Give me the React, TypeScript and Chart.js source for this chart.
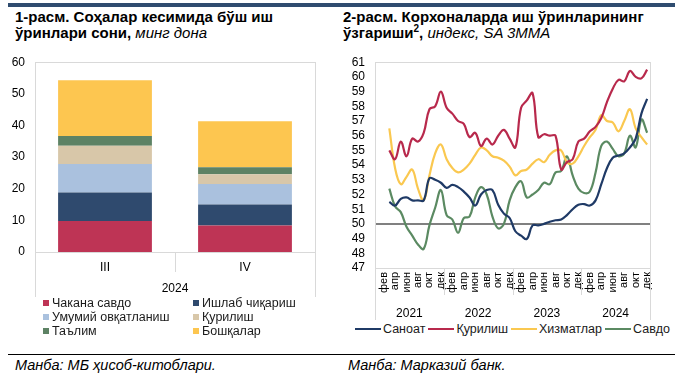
import React, { useEffect, useRef } from "react";
import { Chart, registerables } from "chart.js";

Chart.register(...registerables);
Chart.defaults.font.family = "'Liberation Sans', Arial, sans-serif";
Chart.defaults.color = "#000";

// ---------- Chart 1 data ----------
const barCategories = ["III", "IV"];
const barYearLabel = "2024";
const retail = [9.8, 8.4]; // Чакана савдо
const manufacturing = [9.0, 6.6]; // Ишлаб чиқариш
const catering = [9.0, 6.5]; // Умумий овқатланиш
const constructionJobs = [5.8, 3.1]; // Қурилиш
const education = [3.1, 2.2]; // Таълим
const otherJobs = [17.6, 14.5]; // Бошқалар

// ---------- Chart 2 data ----------
const years = ["2021", "2022", "2023", "2024"];
const months = ["янв", "фев", "мар", "апр", "май", "июн", "июл", "авг", "сен", "окт", "ноя", "дек"];
const monthLabels = years.flatMap(() => months);

const industry = [null, null, 51.5, 51.25, 51.7, 51.8, 51.6, 51.6, 51.6, 53.1, 53.0, 52.8, 52.45, 52.65, 52.5, 52.2, 51.8, 51.25, 52.0, 52.3, 52.3, 51.3, 50.7, 50.4, 49.5, 49.2, 48.97, 49.9, 49.9, 50.0, 50.15, 50.25, 50.3, 50.6, 51.0, 51.3, 51.35, 51.25, 51.6, 52.7, 53.8, 54.5, 54.65, 54.8, 55.2, 55.8, 57.5, 58.5];
const construction = [null, null, 55.0, 54.4, 55.6, 54.6, 55.8, 55.6, 56.2, 57.8, 58.0, 59.0, 57.9, 57.5, 57.0, 56.8, 55.9, 56.2, 55.3, 55.8, 55.4, 56.0, 56.4, 55.8, 55.2, 57.9, 58.4, 58.9, 55.9, 56.1, 56.0, 56.0, 53.7, 54.2, 54.4, 55.6, 55.8, 56.3, 56.6, 57.2, 58.3, 59.2, 59.8, 59.7, 60.4, 60.0, 59.9, 60.5];
const services = [null, null, 56.5, 53.8, 52.7, 53.2, 53.7, 52.4, 51.6, 53.3, 54.8, 55.4, 54.4, 53.8, 53.5, 53.7, 54.1, 54.7, 55.2, 55.0, 54.6, 54.5, 54.3, 53.9, 53.3, 53.6, 53.7, 54.1, 54.4, 54.2, 54.7, 55.0, 55.0, 54.2, 54.1, 54.6, 55.3, 55.9, 56.4, 57.4, 57.0, 56.9, 56.3, 57.0, 57.8, 56.5, 55.9, 55.4];
const trade = [null, null, 52.4, 51.2, 50.8, 49.8, 49.2, 48.6, 48.3, 49.9, 51.1, 52.3, 50.6, 50.3, 49.4, 50.4, 50.5, 51.8, 52.5, 52.0, 50.5, 49.7, 50.0, 51.6, 52.5, 52.9, 51.8, 52.0, 52.3, 52.8, 52.7, 53.5, 53.6, 54.6, 53.3, 52.4, 52.1, 52.2, 53.5, 55.3, 55.6, 55.1, 54.6, 54.8, 56.0, 55.2, 57.1, 56.2];

const barSeries = [
  { name: "Чакана савдо", data: retail, color: "#BE3455" },
  { name: "Ишлаб чиқариш", data: manufacturing, color: "#2F4A6E" },
  { name: "Умумий овқатланиш", data: catering, color: "#AAC1DE" },
  { name: "Қурилиш", data: constructionJobs, color: "#D8C7A9" },
  { name: "Таълим", data: education, color: "#5D8264" },
  { name: "Бошқалар", data: otherJobs, color: "#FDC650" },
];

const lineSeries = [
  { name: "Саноат", data: industry, color: "#1F3A66" },
  { name: "Қурилиш", data: construction, color: "#B8294C" },
  { name: "Хизматлар", data: services, color: "#FAC850" },
  { name: "Савдо", data: trade, color: "#5B8A62" },
];

const FONT = "'Liberation Sans', Arial, sans-serif";
const BOX = "#D9D9D9";

const px = (v: number) => Math.round(v) + 0.5;

const barDecor = {
  id: "barDecor",
  beforeDatasetsDraw(chart: any) {
    const { ctx, chartArea } = chart;
    const { left, right, top, bottom } = chartArea;
    ctx.save();
    ctx.strokeStyle = BOX;
    ctx.lineWidth = 1;
    ctx.strokeRect(px(left), px(top), Math.round(right - left), Math.round(bottom - top));
    const mid = (left + right) / 2;
    ctx.beginPath();
    ctx.moveTo(px(left), px(bottom));
    ctx.lineTo(px(left), bottom + 45);
    ctx.moveTo(px(right), px(bottom));
    ctx.lineTo(px(right), bottom + 45);
    ctx.moveTo(px(mid), px(bottom));
    ctx.lineTo(px(mid), bottom + 20);
    ctx.stroke();
    ctx.restore();
  },
};

const lineDecor = {
  id: "lineDecor",
  beforeDatasetsDraw(chart: any) {
    const { ctx, chartArea } = chart;
    const { left, right, top, bottom } = chartArea;
    ctx.save();
    ctx.strokeStyle = BOX;
    ctx.lineWidth = 1;
    ctx.strokeRect(px(left), px(top), Math.round(right - left), Math.round(bottom - top));
    ctx.beginPath();
    const n = years.length;
    for (let k = 0; k <= n; k++) {
      const x = px(left + ((right - left) * k) / n);
      ctx.moveTo(x, px(bottom));
      ctx.lineTo(x, bottom + (k === 0 || k === n ? 52 : 27));
    }
    ctx.stroke();
    ctx.restore();
  },
};

export default function App() {
  const barRef = useRef<HTMLCanvasElement>(null);
  const lineRef = useRef<HTMLCanvasElement>(null);

  useEffect(() => {
    const barChart = new Chart(barRef.current as HTMLCanvasElement, {
      type: "bar",
      data: {
        labels: barCategories,
        datasets: barSeries.map((s) => ({
          label: s.name,
          data: s.data,
          backgroundColor: s.color,
          borderWidth: 0,
          categoryPercentage: 1,
          barPercentage: 0.67,
        })),
      },
      options: {
        responsive: false,
        animation: false,
        devicePixelRatio: 1,
        layout: { padding: { left: 0, right: 25, top: 8, bottom: 0 } },
        plugins: { legend: { display: false }, tooltip: { enabled: false } },
        scales: {
          x: {
            stacked: true,
            grid: { display: false, drawTicks: false },
            border: { display: false },
            ticks: { font: { size: 12, family: FONT }, color: "#000", padding: 8 },
            title: {
              display: true,
              text: barYearLabel,
              font: { size: 12, family: FONT },
              color: "#000",
              padding: { top: 0, bottom: 4 },
            },
            afterFit: (scale: any) => {
              scale.height = 48;
            },
          },
          y: {
            stacked: true,
            min: 0,
            max: 60,
            ticks: { stepSize: 10, font: { size: 12, family: FONT }, color: "#000", padding: 10 },
            grid: { display: false, drawTicks: false },
            border: { display: false },
            afterFit: (scale: any) => {
              scale.width = 35;
            },
          },
        },
      },
      plugins: [barDecor],
    });

    const lineChart = new Chart(lineRef.current as HTMLCanvasElement, {
      type: "line",
      data: {
        labels: monthLabels,
        datasets: lineSeries.map((s) => ({
          label: s.name,
          data: s.data,
          borderColor: s.color,
          backgroundColor: s.color,
          borderWidth: 2.2,
          pointRadius: 0,
          tension: 0.4,
          fill: false,
        })),
      },
      options: {
        responsive: false,
        animation: false,
        devicePixelRatio: 1,
        layout: { padding: { left: 0, right: 30, top: 8, bottom: 0 } },
        plugins: { legend: { display: false }, tooltip: { enabled: false } },
        scales: {
          x: {
            type: "category",
            position: "bottom",
            weight: 0,
            offset: true,
            grid: { display: false, drawTicks: false },
            border: { display: false },
            ticks: {
              autoSkip: false,
              minRotation: 90,
              maxRotation: 90,
              padding: 4,
              font: { size: 11, family: FONT },
              color: "#000",
              callback: (_v: any, i: number) => (i % 2 === 1 ? monthLabels[i] : ""),
            },
            afterFit: (scale: any) => {
              scale.height = 30;
            },
          },
          x2: {
            type: "category",
            position: "bottom",
            weight: 1,
            labels: years,
            offset: true,
            grid: { display: false, drawTicks: false },
            border: { display: false },
            ticks: { font: { size: 12, family: FONT }, color: "#000", padding: 8, autoSkip: false, maxRotation: 0 },
            afterFit: (scale: any) => {
              scale.height = 22;
            },
          },
          y: {
            min: 47,
            max: 61,
            ticks: { stepSize: 1, autoSkip: false, font: { size: 12, family: FONT }, color: "#000", padding: 10 },
            grid: {
              drawTicks: false,
              color: (c: any) => (c.tick && c.tick.value === 50 ? "#808080" : "rgba(0,0,0,0)"),
              lineWidth: (c: any) => (c.tick && c.tick.value === 50 ? 2 : 1),
            },
            border: { display: false },
            afterFit: (scale: any) => {
              scale.width = 35;
            },
          },
        },
      },
      plugins: [lineDecor],
    });

    return () => {
      barChart.destroy();
      lineChart.destroy();
    };
  }, []);

  const titleStyle: React.CSSProperties = {
    position: "absolute",
    top: 9,
    fontFamily: FONT,
    fontSize: 15,
    fontWeight: "bold",
    lineHeight: "16px",
    color: "#000",
    whiteSpace: "nowrap",
  };
  const legendText: React.CSSProperties = {
    fontFamily: FONT,
    fontSize: 12.5,
    color: "#1a1a1a",
    whiteSpace: "nowrap",
  };
  const footerStyle: React.CSSProperties = {
    position: "absolute",
    top: 357,
    fontFamily: FONT,
    fontSize: 14.5,
    lineHeight: "17px",
    fontStyle: "italic",
    color: "#000",
    whiteSpace: "nowrap",
  };

  const legendPos = [
    { x: 43, y: 303 },
    { x: 193, y: 303 },
    { x: 43, y: 317 },
    { x: 193, y: 317 },
    { x: 43, y: 331 },
    { x: 193, y: 331 },
  ];

  return (
    <div style={{ position: "absolute", left: 0, top: 0, width: 680, height: 377, background: "#fff", overflow: "hidden" }}>
      <div style={{ position: "absolute", left: 8, top: 3, width: 667, height: 4, background: "#2F4C6F" }} />
      <div style={{ ...titleStyle, left: 15 }}>
        1-расм. Соҳалар кесимида бўш иш
        <br />
        ўринлари сони, <span style={{ fontStyle: "italic", fontWeight: "normal" }}>минг дона</span>
      </div>
      <div style={{ ...titleStyle, left: 343 }}>
        2-расм. Корхоналарда иш ўринларининг
        <br />
        ўзгариши<sup style={{ fontSize: 10, lineHeight: 0 }}>2</sup>,{" "}
        <span style={{ fontStyle: "italic", fontWeight: "normal" }}>индекс, SA 3MMA</span>
      </div>

      <canvas ref={barRef} width={340} height={255} style={{ position: "absolute", left: 0, top: 45, width: 340, height: 255 }} />
      <canvas ref={lineRef} width={340} height={275} style={{ position: "absolute", left: 340, top: 45, width: 340, height: 275 }} />

      {barSeries.map((s, i) => (
        <div
          key={s.name}
          style={{ position: "absolute", left: legendPos[i].x, top: legendPos[i].y - 7, height: 14, display: "flex", alignItems: "center" }}
        >
          <span style={{ display: "inline-block", width: 6, height: 6, background: s.color, marginRight: 3 }} />
          <span style={legendText}>{s.name}</span>
        </div>
      ))}

      <div style={{ position: "absolute", left: 355, top: 322, height: 14, display: "flex", alignItems: "center" }}>
        {lineSeries.map((s) => (
          <div key={s.name} style={{ display: "flex", alignItems: "center", marginRight: 3 }}>
            <span style={{ display: "inline-block", width: 26, height: 2, background: s.color, marginRight: 2 }} />
            <span style={legendText}>{s.name}</span>
          </div>
        ))}
      </div>

      <div style={{ position: "absolute", left: 8, top: 354, width: 667, height: 1, background: "#000" }} />
      <div style={{ ...footerStyle, left: 15 }}>Манба: МБ ҳисоб-китоблари.</div>
      <div style={{ ...footerStyle, left: 348 }}>Манба: Марказий банк.</div>
    </div>
  );
}
